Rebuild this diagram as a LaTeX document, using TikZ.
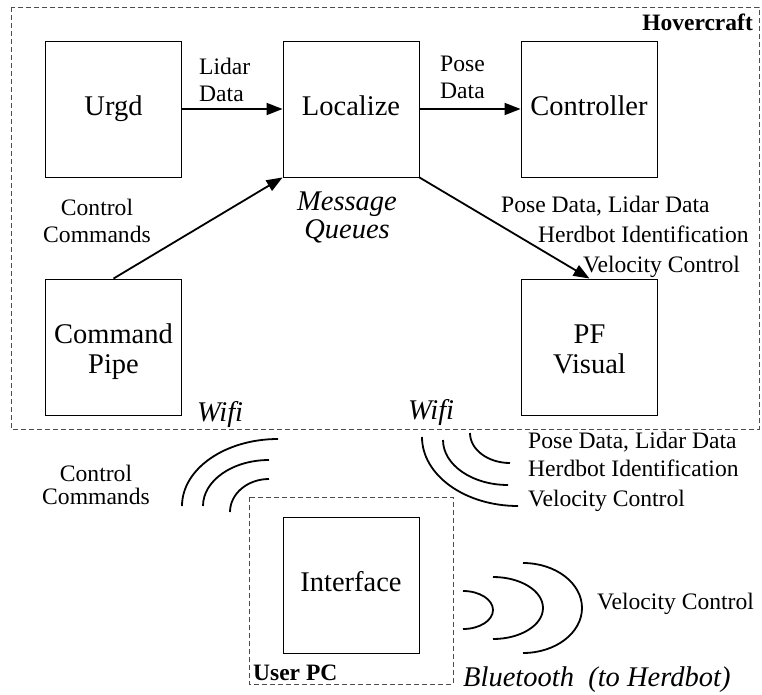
\documentclass[tikz,border=0pt]{standalone}
\usepackage{fontspec}
\setmainfont{Liberation Serif}
\usetikzlibrary{arrows.meta}

\begin{document}
\begin{tikzpicture}[x=1pt,y=-1pt,
  blk/.style={draw, line width=0.9pt, minimum width=136pt, minimum height=136pt,
    inner sep=0pt, font=\fontsize{28.5}{30}\selectfont, text height=19pt, text depth=6pt},
  big/.style={font=\fontsize{28.5}{30}\selectfont, inner sep=0pt, anchor=base},
  small/.style={font=\fontsize{23.6}{27}\selectfont, inner sep=0pt},
  ital/.style={font=\fontsize{28.5}{30}\itshape\selectfont, inner sep=0pt},
  tag/.style={font=\fontsize{23.5}{25}\bfseries\selectfont, inner sep=0pt},
  frame/.style={draw, line width=0.8pt, dash pattern=on 5pt off 3pt, black!70},
  flow/.style={line width=1.8pt, -{Triangle[length=16pt,width=12pt]}},
  wave/.style={line width=1.8pt},
]
\useasboundingbox (0,0) rectangle (762,695);

% group frames
\draw[frame] (11,7) rectangle (759,429);
\draw[frame] (249,497) rectangle (453,684);
\node[tag, anchor=base east] (hov) at (753,31) {Hovercraft};
\node[tag, anchor=base west] (upc) at (253,680) {User PC};

% processes
\node[blk] (urgd) at (113.5,109) {Urgd};
\node[blk] (loc)  at (351,109)   {Localize};
\node[blk] (ctl)  at (589,109)   {Controller};
\node[blk] (cmd)  at (113.5,347) {};
\node[blk] (pfv)  at (589.5,347) {};
\node[blk] (ui)   at (351,585)   {Interface};
\node[big] (cmdA) at (113.5,343) {Command};
\node[big] (cmdB) at (113.5,373) {Pipe};
\node[big] (pfvA) at (589.5,343) {PF};
\node[big] (pfvB) at (589.5,373) {Visual};

% message flow
\draw[flow] (urgd.east) -- (loc.west);
\draw[flow] (loc.east) -- (ctl.west);
\draw[flow] (cmd.north) -- (loc.south west);
\draw[flow] (loc.south east) -- (pfv.north);

\node[small, anchor=base west] (lidA) at (199,75)  {Lidar};
\node[small, anchor=base west] (lidB) at (199,102) {Data};
\node[small, anchor=base west] (posA) at (440,72)  {Pose};
\node[small, anchor=base west] (posB) at (440,99)  {Data};
\node[small, anchor=base] (ccA) at (97,215) {Control};
\node[small, anchor=base] (ccB) at (97,242) {Commands};
\node[ital, anchor=base] (mqA) at (347,210) {Message};
\node[ital, anchor=base] (mqB) at (347,238) {Queues};
\node[small, anchor=base west] (pvA) at (501,212) {Pose Data, Lidar Data};
\node[small, anchor=base west] (pvB) at (538,242) {Herdbot Identification};
\node[small, anchor=base west] (pvC) at (583,272) {Velocity Control};

% wireless links
\node[ital, anchor=base west] (wifiL) at (197,421) {Wifi};
\node[ital, anchor=base west] (wifiR) at (408,419) {Wifi};

\draw[wave] (182,506) arc[start angle=180, end angle=270, x radius=96, y radius=67];
\draw[wave] (203,506) arc[start angle=180, end angle=270, x radius=66, y radius=46];
\draw[wave] (230,512) arc[start angle=180, end angle=270, x radius=39, y radius=33];
\node[small, anchor=base] (lcA) at (96,481) {Control};
\node[small, anchor=base] (lcB) at (96,504) {Commands};

\draw[wave] (422,437) arc[start angle=180, end angle=90, x radius=96, y radius=69];
\draw[wave] (443,440) arc[start angle=180, end angle=90, x radius=65, y radius=45];
\draw[wave] (470,433) arc[start angle=180, end angle=90, x radius=40, y radius=30];
\node[small, anchor=base west] (wrA) at (528,448) {Pose Data, Lidar Data};
\node[small, anchor=base west] (wrB) at (528,476) {Herdbot Identification};
\node[small, anchor=base west] (wrC) at (528,506) {Velocity Control};

\draw[wave] (463,591) arc[start angle=-90, end angle=90, x radius=30, y radius=19];
\draw[wave] (493,577) arc[start angle=-90, end angle=90, x radius=50, y radius=31];
\draw[wave] (523,563) arc[start angle=-90, end angle=90, x radius=59, y radius=45];
\node[small, anchor=base west] (btv) at (597,609) {Velocity Control};
\node[ital, anchor=base west] (bt) at (463,686) {Bluetooth\ \ (to Herdbot)};

\end{tikzpicture}
\end{document}
